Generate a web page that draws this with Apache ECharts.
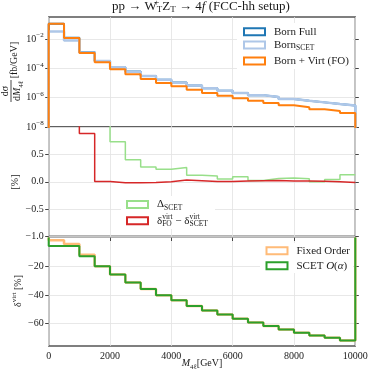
<!DOCTYPE html>
<html><head><meta charset="utf-8">
<script src="https://cdn.jsdelivr.net/npm/echarts@6/dist/echarts.min.js"></script>
<style>html,body{margin:0;padding:0;background:#fff}#c{width:374px;height:374px}</style>
</head><body><div id="c"></div>
<script>
// ---- data ----
const binEdges = [0,500,1000,1500,2000,2500,3000,3500,4000,4500,5000,5500,6000,6500,7000,7500,8000,8500,9000,9500,10000];
const xTicks = [0,2000,4000,6000,8000,10000];
// panel 1: dsigma/dM4l [fb/GeV]
const bornFull   = [1.14e-1,1.23e-2,1.31e-3,3.25e-4,1.21e-4,6.05e-5,3.0e-5,1.7e-5,1.08e-5,6.8e-6,4.35e-6,3.0e-6,2.1e-6,1.5e-6,1.12e-6,8.1e-7,6.2e-7,4.8e-7,3.7e-7,2.9e-7];
const bornSCET   = [3.3e-2,8.1e-3,1.23e-3,3.15e-4,1.2e-4,6.0e-5,3.0e-5,1.7e-5,1.07e-5,6.8e-6,4.35e-6,3.0e-6,2.1e-6,1.5e-6,1.12e-6,8.1e-7,6.2e-7,4.8e-7,3.7e-7,2.9e-7];
const bornVirtFO = [1.12e-1,1.17e-2,1.15e-3,2.6e-4,8.9e-5,4.0e-5,1.9e-5,1.0e-5,6.0e-6,3.5e-6,2.1e-6,1.38e-6,9.1e-7,6.3e-7,4.4e-7,3.0e-7,2.2e-7,1.6e-7,1.23e-7,8.9e-8];
// panel 2: [%]
const deltaSCET     = [6.0,4.0,2.5,1.5,0.73,0.40,0.27,0.23,0.26,0.12,0.105,0.05,0.09,0.025,0.06,0.07,0.055,0.0,0.04,0.13];
const deltaVirtDiff = [4.0,1.4,0.88,0.005,-0.02,-0.02,-0.012,0.0,0.03,0.018,0.006,0.006,0.012,0.018,0.025,0.012,0.012,0.01,0.0,-0.012];
// panel 3: delta_virt [%]
const fixedOrder = [-2.0,-4.6,-12.1,-20.0,-25.8,-31.4,-35.9,-40.3,-43.8,-47.7,-50.8,-53.6,-56.6,-59.2,-61.7,-64.1,-66.4,-68.3,-69.9,-71.7];
const scetAlpha  = [-6.0,-6.0,-13.0,-20.0,-25.8,-31.4,-35.9,-40.3,-43.8,-47.7,-50.8,-53.6,-56.6,-59.2,-61.7,-64.1,-66.4,-68.3,-69.9,-71.7];
const yTicksTop = [1e-8,1e-6,1e-4,1e-2];
const yTicksMid = [-1,-0.5,0,0.5];
const yTicksBot = [-60,-40,-20];

// ---- styles ----
const F = "'Liberation Serif','DejaVu Serif',serif";
const C = '#1a1a1a';
const R = {
  t:{fontFamily:F,fontSize:10,color:C,lineHeight:15},
  i:{fontFamily:F,fontSize:10,color:C,fontStyle:'italic',lineHeight:15},
  sub:{fontFamily:F,fontSize:7,color:C,verticalAlign:'bottom',lineHeight:8},
  sub0:{fontFamily:F,fontSize:7,color:C,verticalAlign:'bottom',lineHeight:8,width:0},
  sup:{fontFamily:F,fontSize:7,color:C,verticalAlign:'top',lineHeight:8},
  sup0:{fontFamily:F,fontSize:7,color:C,verticalAlign:'top',lineHeight:8,width:0},
  b:{fontFamily:F,fontSize:10,color:C,lineHeight:14},
  e:{fontFamily:F,fontSize:7,color:C,verticalAlign:'top',lineHeight:8}
};
const RL = {
  t:{fontFamily:F,fontSize:11,color:C,lineHeight:15},
  i:{fontFamily:F,fontSize:11,color:C,fontStyle:'italic',lineHeight:15},
  sub:{fontFamily:F,fontSize:7.5,color:C,verticalAlign:'bottom',lineHeight:8},
  sub0:{fontFamily:F,fontSize:7.5,color:C,verticalAlign:'bottom',lineHeight:8,width:0},
  sup:{fontFamily:F,fontSize:7.5,color:C,verticalAlign:'top',lineHeight:8},
  sup0:{fontFamily:F,fontSize:7.5,color:C,verticalAlign:'top',lineHeight:8,width:0}
};
const RT = {
  t:{fontFamily:F,fontSize:13,color:C,lineHeight:16},
  i:{fontFamily:F,fontSize:13,color:C,fontStyle:'italic',lineHeight:16},
  sub:{fontFamily:F,fontSize:9,color:C,verticalAlign:'bottom',lineHeight:9},
  sup0:{fontFamily:F,fontSize:9,color:C,verticalAlign:'top',lineHeight:9,width:0}
};

function hist(vals, b0, b1){
  const p=[];
  if(b0!=null) p.push([binEdges[0],b0]);
  vals.forEach((v,i)=>p.push([binEdges[i],v]));
  p.push([binEdges[vals.length],vals[vals.length-1]]);
  if(b1!=null) p.push([binEdges[vals.length],b1]);
  return p;
}
function ser(name,data,color,w,g){
  return {name,type:'line',step:'end',data,xAxisIndex:g,yAxisIndex:g,showSymbol:false,symbol:'none',
    lineStyle:{color,width:w},itemStyle:{color},clip:true,silent:true};
}

const gridTop=[17,127,236.5], gridH=[110,109.5,109.5];
const grids=gridTop.map((t,i)=>({left:48.7,right:18.7,top:t,height:gridH[i],show:true,borderColor:'#555',borderWidth:1.3,backgroundColor:'transparent'}));

const splitLine={show:true,lineStyle:{color:'#e2e2e2',width:0.8}};
const xAxes=[0,1,2].map(i=>({gridIndex:i,type:'value',min:0,max:10000,interval:2000,
  axisLine:{show:false},splitLine,
  axisTick:{show:i===2,length:3.5,inside:false,lineStyle:{color:'#444'}},
  axisLabel:{show:i===2,fontFamily:F,fontSize:10,color:C,margin:5,formatter:v=>String(v)}}));

const logMax=Math.pow(10,-0.49);
const tickCommon={length:3.5,lineStyle:{color:'#444'}};
function yPair(g,base){
  const left=Object.assign({gridIndex:g,position:'left',axisLine:{show:false},splitLine,
     axisTick:Object.assign({show:true},tickCommon)},base.left);
  const right=Object.assign({gridIndex:g,position:'right',axisLine:{show:false},splitLine:{show:false},
     axisTick:Object.assign({show:true},tickCommon),axisLabel:{show:false}},base.right);
  return [left,right];
}
const logFmt=v=>{const e=Math.round(Math.log10(v));
  if(e>-2||e<-8||Math.abs(Math.log10(v)-e)>1e-6||e%2!==0) return '';
  return '{b|10}{e|'+(e<0?'−':'')+Math.abs(e)+'}';};
const y0=yPair(0,{
  left:{type:'log',logBase:10,min:1e-8,max:logMax,
    axisTick:Object.assign({show:true,customValues:yTicksTop},tickCommon),
    axisLabel:{fontFamily:F,fontSize:10,color:C,margin:5,rich:R,customValues:yTicksTop,
      formatter:logFmt}},
  right:{type:'log',logBase:10,min:1e-8,max:logMax,axisTick:Object.assign({show:true,customValues:yTicksTop},tickCommon)}
});
const y1=yPair(1,{
  left:{type:'value',min:-1,max:1,interval:0.5,
    axisLabel:{fontFamily:F,fontSize:10,color:C,margin:5,
      formatter:v=>Math.abs(v-1)<1e-9?'':(v<0?'−':'')+Math.abs(v).toFixed(1)}},
  right:{type:'value',min:-1,max:1,interval:0.5}
});
const y2=yPair(2,{
  left:{type:'value',min:-75.6,max:0.7,
    axisTick:Object.assign({show:true,customValues:yTicksBot},tickCommon),
    axisLabel:{fontFamily:F,fontSize:10,color:C,margin:5,customValues:yTicksBot,
      formatter:v=>(v<0?'−':'')+Math.abs(v)}},
  right:{type:'value',min:-75.6,max:0.7,axisTick:Object.assign({show:true,customValues:yTicksBot},tickCommon)}
});
const yAxes=[y0[0],y1[0],y2[0],y0[1],y1[1],y2[1]];

const series=[
  ser('Born Full',hist(bornFull,1e-10,1e-10),'#1f77b4',2,0),
  ser('Born SCET',hist(bornSCET,1e-10,1e-10),'#aec7e8',2.5,0),
  ser('Born + Virt (FO)',hist(bornVirtFO,1e-10,1e-10),'#ff7f0e',2,0),
  ser('Delta SCET',hist(deltaSCET),'#98df8a',1.5,1),
  ser('delta diff',hist(deltaVirtDiff),'#d62728',1.5,1),
  ser('Fixed Order',hist(fixedOrder,0,0),'#ffbb78',2.5,2),
  ser('SCET O(a)',hist(scetAlpha,0,0),'#2ca02c',2,2)
];

function lg(name,color,left,cy,fmt){
  return {show:true,orient:'horizontal',left,top:cy-7.5,padding:0,itemWidth:21,itemHeight:7,
    selectedMode:false,z:6,
    data:[{name,icon:'rect',itemStyle:{color:'#ffffff',borderColor:color,borderWidth:2}}],
    formatter:()=>fmt,
    textStyle:{fontFamily:F,fontSize:11,color:C,lineHeight:15,padding:[0,0,0,4],rich:RL}};
}
const legends=[
  lg('Born Full','#1f77b4',243,31.7,'{t|Born Full}'),
  lg('Born SCET','#aec7e8',243,45,'{t|Born}{sub|SCET}'),
  lg('Born + Virt (FO)','#ff7f0e',243,61,'{t|Born + Virt (FO)}'),
  lg('Delta SCET','#98df8a',126,204.5,'{t|Δ}{sub|SCET}'),
  lg('delta diff','#d62728',126,220.7,'{t|δ}{sub0|FO}{sup|virt}{t| − δ}{sup0|virt}{sub|SCET}'),
  lg('Fixed Order','#ffbb78',265.5,250.8,'{t|Fixed Order}'),
  lg('SCET O(a)','#2ca02c',265.5,265.7,'{t|SCET }{i|O}{t|(}{i|α}{t|)}')
];

const txt=(x,y,text,rich,extra)=>Object.assign({type:'text',x,y,z:7,silent:true,
  style:{text,rich,fill:C,font:'10px '+F,align:'center',verticalAlign:'middle',textAlign:'center',textVerticalAlign:'middle'}},extra||{});
const graphic=[
  {type:'rect',z:5,silent:true,shape:{x:237,y:23,width:116,height:46},style:{fill:'#fff'}},
  {type:'rect',z:5,silent:true,shape:{x:121,y:196,width:94,height:33},style:{fill:'#fff'}},
  {type:'rect',z:5,silent:true,shape:{x:260,y:243,width:93,height:30},style:{fill:'#fff'}},
  txt(201,6.5,'{t|pp → W}{sup0|+}{sub|T}{t|Z}{sub|T}{t| → 4}{i|f}{t| (FCC-hh setup)}',RT),
  txt(202,363,'{i|M}{sub|4ℓ}{t|[GeV]}',R),
  {type:'group',x:11,y:72,rotation:Math.PI/2,z:7,silent:true,children:[
    txt(-19,-6,'{t|dσ}',R),
    {type:'line',z:7,shape:{x1:-30,y1:0,x2:-8,y2:0},style:{stroke:C,lineWidth:0.8}},
    txt(-19,6,'{t|d}{i|M}{sub|4ℓ}',R),
    txt(12,3,'{t|[fb/GeV]}',R)
  ]},
  {type:'group',x:15,y:182,rotation:Math.PI/2,z:7,silent:true,children:[txt(0,0,'{t|[%]}',R)]},
  {type:'group',x:18,y:291,rotation:Math.PI/2,z:7,silent:true,children:[txt(0,0,'{t|δ}{sup|virt}{t| [%]}',R)]}
];

const chart=echarts.init(document.getElementById('c'),null,{renderer:'canvas'});
chart.setOption({animation:false,backgroundColor:'#fff',grid:grids,xAxis:xAxes,yAxis:yAxes,
  series,legend:legends,graphic});
</script></body></html>
